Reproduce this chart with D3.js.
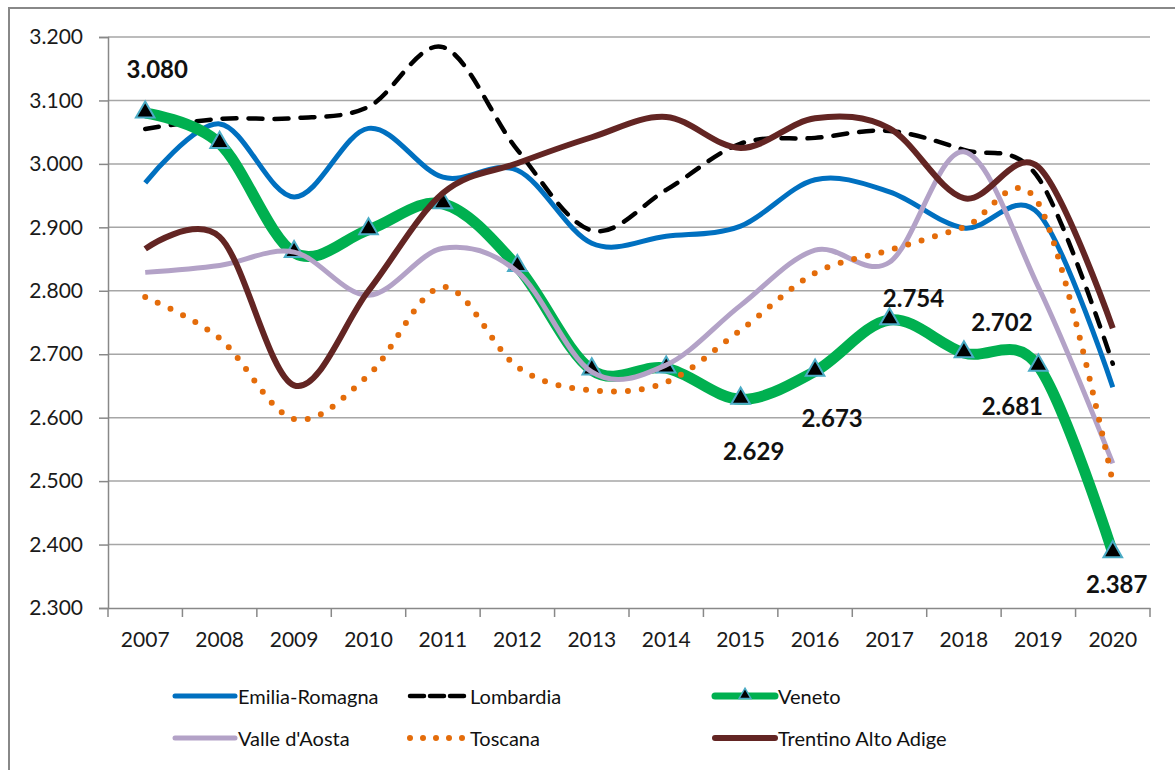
<!DOCTYPE html>
<html>
<head>
<meta charset="utf-8">
<script src="https://cdn.jsdelivr.net/npm/d3@7/dist/d3.min.js"></script>
<style>
  body { margin: 0; background: #fff; }
  svg { display: block; font-family: Lato, "Open Sans", sans-serif; }
</style>
</head>
<body>
<div id="chart"></div>
<script>
// data
const years = ["2007","2008","2009","2010","2011","2012","2013","2014","2015","2016","2017","2018","2019","2020"];
const emiliaRomagna = [2.970, 3.063, 2.948, 3.056, 2.979, 2.990, 2.875, 2.886, 2.902, 2.975, 2.956, 2.899, 2.922, 2.648];
const lombardia     = [3.055, 3.071, 3.072, 3.090, 3.184, 3.022, 2.895, 2.959, 3.032, 3.041, 3.052, 3.022, 2.978, 2.685];
const veneto        = [3.080, 3.032, 2.860, 2.896, 2.937, 2.838, 2.675, 2.678, 2.629, 2.673, 2.754, 2.702, 2.681, 2.387];
const valleDAosta   = [2.829, 2.840, 2.861, 2.793, 2.867, 2.830, 2.672, 2.683, 2.777, 2.864, 2.845, 3.019, 2.806, 2.528];
const toscana       = [2.790, 2.725, 2.598, 2.667, 2.806, 2.680, 2.643, 2.656, 2.738, 2.828, 2.864, 2.900, 2.938, 2.498];
const trentino      = [2.866, 2.885, 2.651, 2.800, 2.954, 3.001, 3.042, 3.074, 3.025, 3.072, 3.056, 2.946, 2.995, 2.741];
const yTicks = [2.3, 2.4, 2.5, 2.6, 2.7, 2.8, 2.9, 3.0, 3.1, 3.2];
const labelledYears = ["2007","2015","2016","2017","2018","2019","2020"];

const seriesNames = ["Emilia-Romagna","Lombardia","Veneto","Valle d'Aosta","Toscana","Trentino Alto Adige"];
const seriesValues = [emiliaRomagna, lombardia, veneto, valleDAosta, toscana, trentino];

// styling per series
const styles = {
  "Emilia-Romagna": {color: "#0070C0", width: 5},
  "Lombardia": {color: "#000000", width: 4.5, dash: "14,12", cap: "round"},
  "Veneto": {color: "#00B050", width: 11, legendWidth: 7},
  "Valle d'Aosta": {color: "#B3A2C7", width: 5},
  "Toscana": {color: "#E46C0A", width: 6, dash: "0,14", cap: "round"},
  "Trentino Alto Adige": {color: "#632523", width: 6}
};

// where each data label sits relative to its point
const labelOffsets = {
  "2007": [12, -45], "2015": [13, 51], "2016": [17, 46], "2017": [24, -22],
  "2018": [38, -31], "2019": [-26, 39], "2020": [4, 31]
};

const W = 1175, H = 770;
const margin = {top: 37, right: 25, bottom: 162, left: 108};

const svg = d3.select("#chart").append("svg")
  .attr("width", W)
  .attr("height", H);

// outer frame (only top and left edges visible)
svg.append("path")
  .attr("d", `M9,${H} L9,8 L${W},8`)
  .attr("fill", "none")
  .attr("stroke", "#888")
  .attr("stroke-width", 2);

const x = d3.scaleBand()
  .domain(years)
  .range([margin.left, W - margin.right]);

const y = d3.scaleLinear()
  .domain([2.3, 3.2])
  .range([H - margin.bottom, margin.top]);

const fmt = d3.format(".3f");

// gridlines
svg.append("g")
  .selectAll("line")
  .data(yTicks.slice(1))
  .join("line")
    .attr("x1", margin.left)
    .attr("x2", W - margin.right)
    .attr("y1", d => y(d))
    .attr("y2", d => y(d))
    .attr("stroke", "#A6A6A6")
    .attr("stroke-width", 1.5);

// y axis
const yAxis = svg.append("g")
  .attr("transform", `translate(${margin.left},0)`)
  .call(d3.axisLeft(y).tickValues(yTicks).tickFormat(fmt).tickSize(9).tickPadding(16));
yAxis.selectAll("line, path").attr("stroke", "#888").attr("stroke-width", 1.5);
yAxis.selectAll("text").style("font-size", "21px").attr("fill", "#1a1a1a").style("font-family", "Lato, sans-serif");

// x axis, ticks at band edges
const xAxis = svg.append("g")
  .attr("transform", `translate(0,${H - margin.bottom})`)
  .call(d3.axisBottom(x).tickSize(0).tickPadding(24));
xAxis.select(".domain").attr("stroke", "#888").attr("stroke-width", 1.5);
xAxis.selectAll("text").style("font-size", "21px").attr("fill", "#1a1a1a").style("font-family", "Lato, sans-serif");
xAxis.selectAll(".edge")
  .data(d3.range(years.length + 1))
  .join("line")
    .attr("class", "edge")
    .attr("x1", i => margin.left + i * x.step())
    .attr("x2", i => margin.left + i * x.step())
    .attr("y1", 0)
    .attr("y2", 9)
    .attr("stroke", "#888")
    .attr("stroke-width", 1.5);

const line = d3.line()
  .x((d, i) => x(years[i]) + x.bandwidth() / 2)
  .y(d => y(d))
  .curve(d3.curveCatmullRom.alpha(0));

const triangle = d3.symbol().type(d3.symbolTriangle).size(150);

seriesNames.forEach((name, k) => {
  const st = styles[name];
  svg.append("path")
    .datum(seriesValues[k])
    .attr("d", line)
    .attr("fill", "none")
    .attr("stroke", st.color)
    .attr("stroke-width", st.width)
    .attr("stroke-linecap", st.cap || "butt")
    .attr("stroke-linejoin", "round")
    .attr("stroke-dasharray", st.dash || null);

  if (name === "Veneto") {
    svg.append("g")
      .selectAll("path")
      .data(seriesValues[k])
      .join("path")
        .attr("d", triangle)
        .attr("transform", (d, i) => `translate(${x(years[i]) + x.bandwidth() / 2},${y(d) - 1})`)
        .attr("fill", "#000")
        .attr("stroke", "#4BACC6")
        .attr("stroke-width", 2);
  }
});

// data labels on Veneto
svg.append("g")
  .selectAll("text")
  .data(labelledYears)
  .join("text")
    .attr("x", yr => x(yr) + x.bandwidth() / 2 + labelOffsets[yr][0])
    .attr("y", yr => y(veneto[years.indexOf(yr)]) + labelOffsets[yr][1])
    .attr("text-anchor", "middle")
    .attr("dominant-baseline", "central")
    .style("font-size", "24px")
    .style("font-weight", "bold")
    .attr("fill", "#111")
    .text(yr => fmt(veneto[years.indexOf(yr)]));

// legend
const legendCols = [175, 407, 715];
const legendRows = [696, 738];
const legend = svg.append("g")
  .selectAll("g")
  .data(seriesNames)
  .join("g")
    .attr("transform", (d, i) => `translate(${legendCols[i % 3]},${legendRows[Math.floor(i / 3)]})`);

legend.append("line")
  .attr("x1", 0).attr("x2", 60)
  .attr("stroke", d => styles[d].color)
  .attr("stroke-width", d => styles[d].legendWidth || Math.min(styles[d].width, 6))
  .attr("stroke-linecap", "round")
  .attr("stroke-dasharray", d => d === "Lombardia" ? "14,6" : d === "Toscana" ? "0,13" : null)
  .attr("transform", d => d === "Lombardia" ? "translate(3,0)" : d === "Toscana" ? "translate(3,0)" : null);

legend.filter(d => d === "Veneto").append("path")
  .attr("d", d3.symbol().type(d3.symbolTriangle).size(60))
  .attr("transform", "translate(30,-1)")
  .attr("fill", "#000")
  .attr("stroke", "#4BACC6")
  .attr("stroke-width", 1.5);

legend.append("text")
  .attr("x", 63)
  .attr("dominant-baseline", "central")
  .style("font-size", "20px")
  .attr("fill", "#111")
  .text(d => d);
</script>
</body>
</html>
